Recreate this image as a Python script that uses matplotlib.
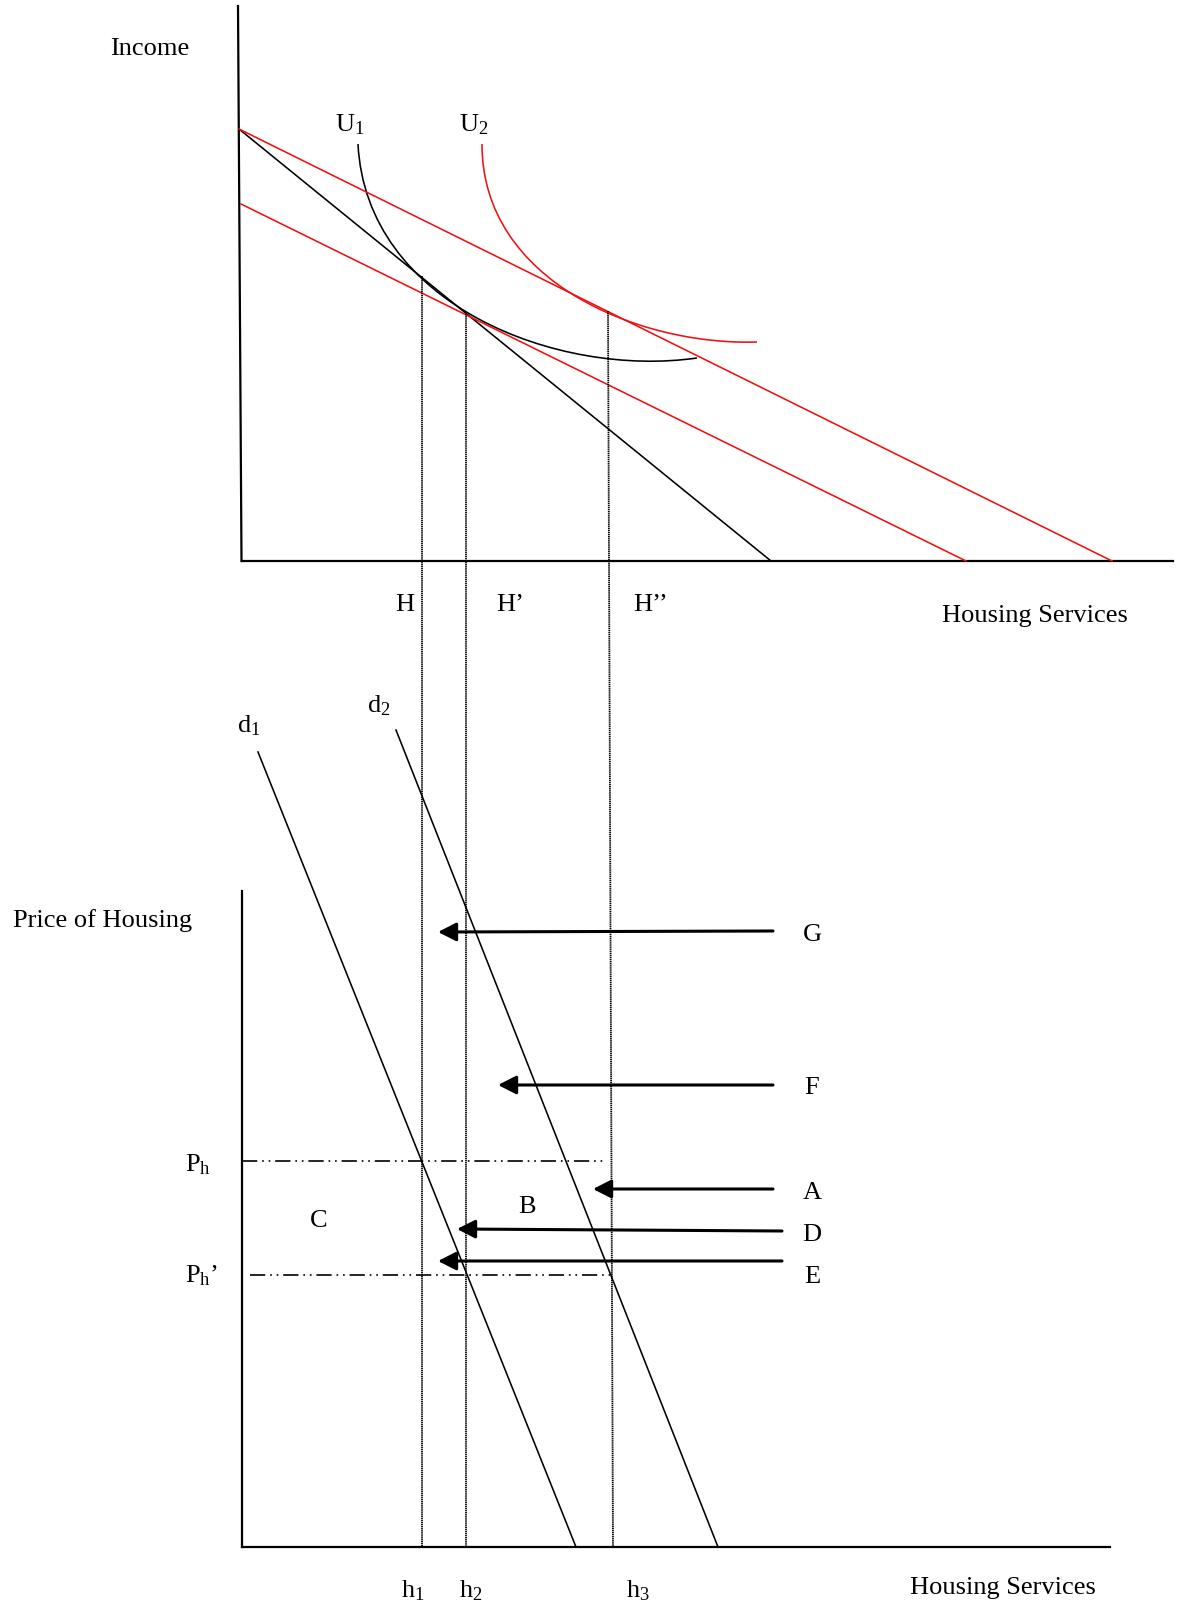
import matplotlib
matplotlib.use('Agg')
import numpy as np
import matplotlib.pyplot as plt
from matplotlib.path import Path
from matplotlib.patches import PathPatch

plt.rcParams['font.family'] = ['Liberation Serif', 'DejaVu Serif']
plt.rcParams['mathtext.fontset'] = 'custom'
plt.rcParams['mathtext.rm'] = 'Liberation Serif'
plt.rcParams['mathtext.it'] = 'Liberation Serif:italic'
plt.rcParams['lines.scale_dashes'] = False

# --- top panel: income vs housing services (diagram units) ---
budget_old_x = [239, 771]
budget_old_y = [130, 562]
budget_new_x = [239, 1112]
budget_new_y = [130, 562]
budget_comp_x = [241, 966]
budget_comp_y = [205, 562]

u1_x = [358, 360, 365, 373, 387, 403, 422, 443, 467, 493, 527, 567, 607, 653, 697]
u1_y = [145, 167, 190, 217, 240, 260, 277, 297, 313, 328, 342, 353, 358, 361, 359]
u2_x = [482, 483, 487, 493, 503, 517, 533, 553, 577, 607, 637, 670, 703, 757]
u2_y = [145, 163, 183, 207, 227, 247, 266, 283, 298, 312, 325, 334, 340, 343]

# --- bottom panel: price of housing vs housing services ---
d1_x = [258, 576]
d1_y = [753, 1548]
d2_x = [396, 718]
d2_y = [731, 1548]

# quantity drop lines (top end, bottom end)
q_top_x = [422, 466, 608]
q_top_y = [277, 313, 312]
q_bot_x = [422, 466, 613]
q_labels_top = ['H', 'H\u2019', 'H\u2019\u2019']
q_labels_bot = [r'h$_\mathrm{1}$', r'h$_\mathrm{2}$', r'h$_\mathrm{3}$']

price_y = [1162, 1276]
price_end_x = [603, 613]
price_start_x = [242, 250]
price_labels = [r'P$_\mathrm{h}$', r'P$_\mathrm{h}$' + '\u2019']

arrow_labels = ['G', 'F', 'A', 'D', 'E']
arrow_tail_x = [773, 773, 773, 782, 782]
arrow_tail_y = [932, 1086, 1190, 1232, 1262]
arrow_tip_x = [438, 498, 593, 457, 438]
arrow_tip_y = [933, 1086, 1190, 1230, 1262]
arrow_label_y = [941, 1094, 1199, 1241, 1283]


def bezier_fit(xs, ys):
    # least-squares cubic Bezier through the end points, smoothing the read points
    pts = np.column_stack([xs, ys]).astype(float)
    d = np.r_[0, np.cumsum(np.hypot(*np.diff(pts, axis=0).T))]
    t = d / d[-1]
    p0, p3 = pts[0], pts[-1]
    b0 = (1 - t) ** 3
    b1 = 3 * t * (1 - t) ** 2
    b2 = 3 * t ** 2 * (1 - t)
    b3 = t ** 3
    rhs = pts - np.outer(b0, p0) - np.outer(b3, p3)
    A = np.column_stack([b1, b2])
    ctrl, *_ = np.linalg.lstsq(A, rhs, rcond=None)
    verts = [tuple(p0), tuple(ctrl[0]), tuple(ctrl[1]), tuple(p3)]
    return Path(verts, [Path.MOVETO, Path.CURVE4, Path.CURVE4, Path.CURVE4])


fig = plt.figure(figsize=(11.77, 16.08), dpi=100)
ax = fig.add_axes([0, 0, 1, 1])
ax.set_xlim(0, 1177)
ax.set_ylim(1608, 0)
ax.set_axis_off()

fs = 19
axis_lw = 1.6
line_lw = 1.15
red = '#ee1111'

# axes of the two panels
ax.plot([238, 241.5], [7, 562], color='black', lw=axis_lw)
ax.plot([241.5, 1173], [562, 562], color='black', lw=axis_lw)
ax.plot([242, 242], [892, 1548], color='black', lw=axis_lw)
ax.plot([242, 1110], [1548, 1548], color='black', lw=axis_lw)

# budget lines
ax.plot(budget_old_x, budget_old_y, color='black', lw=line_lw)
ax.plot(budget_new_x, budget_new_y, color=red, lw=line_lw)
ax.plot(budget_comp_x, budget_comp_y, color=red, lw=line_lw)

# indifference curves
ax.add_patch(PathPatch(bezier_fit(u1_x, u1_y), fill=False, edgecolor='black', lw=line_lw))
ax.add_patch(PathPatch(bezier_fit(u2_x, u2_y), fill=False, edgecolor=red, lw=line_lw))

# demand curves
ax.plot(d1_x, d1_y, color='black', lw=line_lw)
ax.plot(d2_x, d2_y, color='black', lw=line_lw)

# dotted drop lines
for xt, yt, xb in zip(q_top_x, q_top_y, q_bot_x):
    ax.plot([xt, xb], [yt, 1548], color='black', lw=1.3, linestyle=(0, (1.0, 0.5)))

# price lines (dash-dot-dot)
for xs, xe, yp in zip(price_start_x, price_end_x, price_y):
    ax.plot([xs, xe], [yp, yp], color='black', lw=1.2,
            linestyle=(0, (11, 3.5, 1.2, 3.5, 1.2, 3.5)))

# arrows
for tx, ty, hx, hy in zip(arrow_tail_x, arrow_tail_y, arrow_tip_x, arrow_tip_y):
    ax.annotate('', xy=(hx, hy), xytext=(tx, ty),
                arrowprops=dict(arrowstyle='-|>,head_length=0.55,head_width=0.28',
                                mutation_scale=20, lw=2.2, color='black',
                                shrinkA=0, shrinkB=0))

# texts
ax.text(150, 55, 'Income', fontsize=fs, ha='center', va='baseline')
ax.text(335, 131, r'U$_\mathrm{1}$', fontsize=fs, ha='left', va='baseline')
ax.text(459, 131, r'U$_\mathrm{2}$', fontsize=fs, ha='left', va='baseline')
for lab, xc in zip(q_labels_top, [405, 510, 651]):
    ax.text(xc, 611, lab, fontsize=fs, ha='center', va='baseline')
ax.text(1035, 622, 'Housing Services', fontsize=fs, ha='center', va='baseline')

ax.text(237, 732, r'd$_\mathrm{1}$', fontsize=fs, ha='left', va='baseline')
ax.text(367, 712, r'd$_\mathrm{2}$', fontsize=fs, ha='left', va='baseline')
ax.text(13, 927, 'Price of Housing', fontsize=fs, ha='left', va='baseline')

for lab, yp in zip(price_labels, [1171, 1282]):
    ax.text(185, yp, lab, fontsize=fs, ha='left', va='baseline')

for lab, yl in zip(arrow_labels, arrow_label_y):
    ax.text(812, yl, lab, fontsize=fs, ha='center', va='baseline')

ax.text(527, 1213, 'B', fontsize=fs, ha='center', va='baseline')
ax.text(319, 1227, 'C', fontsize=fs, ha='center', va='baseline')

for lab, xc in zip(q_labels_bot, [413, 471, 638]):
    ax.text(xc, 1597, lab, fontsize=fs, ha='center', va='baseline')
ax.text(1003, 1594, 'Housing Services', fontsize=fs, ha='center', va='baseline')

fig.savefig('out.png', dpi=100)
